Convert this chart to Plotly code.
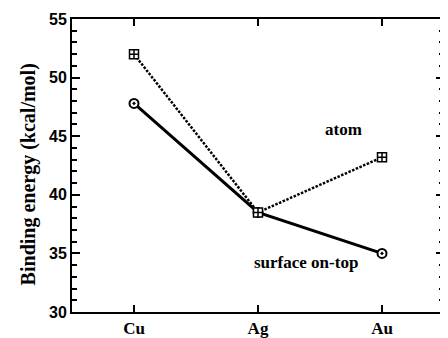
import plotly.graph_objects as go

metals = ["Cu", "Ag", "Au"]
atom_energy = [52.0, 38.5, 43.2]
surface_energy = [47.8, 38.5, 35.0]
y_ticks = [30, 35, 40, 45, 50, 55]

serif = "Liberation Serif, Times New Roman, serif"
sans = "Liberation Sans, Arial, sans-serif"

fig = go.Figure()
fig.add_trace(go.Scatter(
    x=[0, 1, 2], y=surface_energy, mode="lines+markers", name="surface on-top",
    line=dict(color="black", width=3),
    marker=dict(symbol="circle-dot", size=9, color="white",
                line=dict(color="black", width=2)),
))
fig.add_trace(go.Scatter(
    x=[0, 1, 2], y=atom_energy, mode="lines+markers", name="atom",
    line=dict(color="black", width=2.5, dash="2.5px,1.5px"),
    marker=dict(symbol="square-cross", size=9, color="white",
                line=dict(color="black", width=1.5)),
))

fig.add_annotation(x=1.69, y=45.6, text="<b>atom</b>", showarrow=False,
                   font=dict(family=serif, size=17, color="black"))
fig.add_annotation(x=1.39, y=34.2, text="<b>surface on-top</b>", showarrow=False,
                   font=dict(family=serif, size=17, color="black"))
# y-axis title
fig.add_annotation(xref="paper", yref="paper", x=-0.118, y=0.47,
                   xanchor="center", yanchor="middle", textangle=-90,
                   text="<b>Binding energy (kcal/mol)</b>", showarrow=False,
                   font=dict(family=serif, size=20, color="black"))

# page body has an 8px margin, so the figure is offset by 8px
fig.update_layout(
    width=440, height=330,
    margin=dict(l=64, r=4, t=11, b=26),
    paper_bgcolor="white", plot_bgcolor="white",
    showlegend=False,
    xaxis=dict(
        range=[-0.5, 2.5], tickvals=[0, 1, 2], ticktext=["<b>%s</b>" % m for m in metals],
        ticks="inside", ticklen=7, tickwidth=2, tickcolor="black",
        showline=True, linecolor="black", linewidth=2, mirror="ticks",
        showgrid=False, zeroline=False,
        tickfont=dict(family=serif, size=17, color="black"),
        automargin=False,
    ),
    yaxis=dict(
        range=[30, 55], tickvals=y_ticks, ticktext=["<b>%d</b>" % v for v in y_ticks],
        ticks="inside", ticklen=8, tickwidth=1.5, tickcolor="black",
        minor=dict(dtick=1, ticks="inside", ticklen=5, tickwidth=1.5, tickcolor="black"),
        showline=True, linecolor="black", linewidth=2, mirror="ticks",
        showgrid=False, zeroline=False,
        tickfont=dict(family=sans, size=16, color="black"),
        automargin=False,
    ),
)

fig.write_html("out.html")
